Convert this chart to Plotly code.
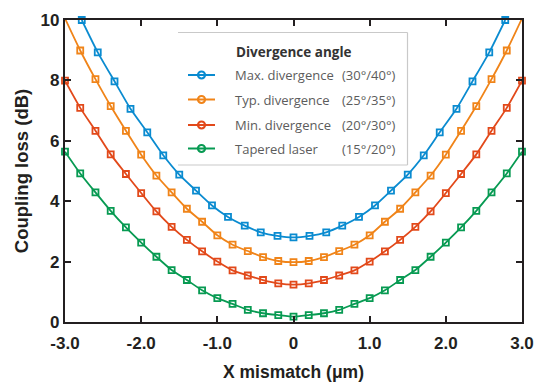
import plotly.graph_objects as go

# ---------------- data ----------------
x_common = [-3.0, -2.8, -2.6, -2.4, -2.2, -2.0, -1.8, -1.6, -1.4, -1.2, -1.0, -0.8, -0.6, -0.4, -0.2,
            0.0, 0.2, 0.4, 0.6, 0.8, 1.0, 1.2, 1.4, 1.6, 1.8, 2.0, 2.2, 2.4, 2.6, 2.8, 3.0]
x_max = [-2.78, -2.57, -2.35, -2.14, -1.92, -1.71, -1.50, -1.28, -1.07, -0.86, -0.64, -0.43, -0.21,
         0.0, 0.21, 0.43, 0.64, 0.86, 1.07, 1.28, 1.50, 1.71, 1.92, 2.14, 2.35, 2.57, 2.78]
y_max = [10.0, 8.93, 7.97, 7.06, 6.28, 5.52, 4.88, 4.35, 3.86, 3.48, 3.19, 2.97, 2.85,
         2.80, 2.85, 2.97, 3.19, 3.48, 3.86, 4.35, 4.88, 5.52, 6.28, 7.06, 7.97, 8.93, 10.0]
y_typ = [10.05, 8.99, 8.04, 7.15, 6.33, 5.54, 4.85, 4.29, 3.75, 3.32, 2.87, 2.56, 2.35, 2.15, 2.02,
         1.98, 2.02, 2.15, 2.35, 2.56, 2.87, 3.32, 3.75, 4.29, 4.85, 5.54, 6.33, 7.15, 8.04, 8.99, 10.05]
y_min = [7.99, 7.09, 6.33, 5.55, 4.90, 4.27, 3.66, 3.15, 2.72, 2.34, 2.00, 1.71, 1.54, 1.39, 1.28,
         1.24, 1.28, 1.39, 1.54, 1.71, 2.00, 2.34, 2.72, 3.15, 3.66, 4.27, 4.90, 5.55, 6.33, 7.09, 7.99]
y_tap = [5.64, 4.92, 4.29, 3.68, 3.13, 2.63, 2.16, 1.72, 1.39, 1.05, 0.79, 0.60, 0.40, 0.29, 0.23,
         0.18, 0.23, 0.29, 0.40, 0.60, 0.79, 1.05, 1.39, 1.72, 2.16, 2.63, 3.13, 3.68, 4.29, 4.92, 5.64]

series_names = ["Max. divergence", "Typ. divergence", "Min. divergence", "Tapered laser"]
series_angles = ["(30°/40°)", "(25°/35°)", "(20°/30°)", "(15°/20°)"]
legend_title = "Divergence angle"
x_tickvals = [-3, -2, -1, 0, 1, 2, 3]
x_ticktext = ["-3.0", "-2.0", "-1.0", "0", "1.0", "2.0", "3.0"]
y_tickvals = [0, 2, 4, 6, 8, 10]

colors = ["#0a8bd0", "#f08419", "#e2491a", "#079a52"]
series = [(x_max, y_max), (x_common, y_typ), (x_common, y_min), (x_common, y_tap)]

fig = go.Figure()
for (xs, ys), c, n in zip(series, colors, series_names):
    fig.add_trace(go.Scatter(
        x=xs, y=ys, mode="lines+markers", name=n, showlegend=False,
        line=dict(color=c, width=1.8, shape="spline", smoothing=0.6),
        marker=dict(symbol="square-open", size=6, color=c, line=dict(width=1.8, color=c)),
        cliponaxis=False,
    ))

# ---------------- manual legend (pixel-mapped overlay axes) ----------------
row_y = [75, 99.5, 125, 148.5]
for c, yy in zip(colors, row_y):
    fig.add_trace(go.Scatter(
        x=[188, 201.5, 215], y=[yy, yy, yy], xaxis="x2", yaxis="y2",
        mode="lines", showlegend=False, hoverinfo="skip",
        line=dict(color=c, width=2)))
    fig.add_trace(go.Scatter(
        x=[201.5], y=[yy], xaxis="x2", yaxis="y2", mode="markers",
        showlegend=False, hoverinfo="skip",
        marker=dict(symbol="circle-open", size=7, color=c, line=dict(width=2.2, color=c))))

annotations = [dict(x=234, y=52, xref="x2", yref="y2", text="<b>" + legend_title + "</b>",
                    showarrow=False, xanchor="left", yanchor="middle",
                    font=dict(family="Open Sans", size=13.5, color="#333333"))]
for n, a, yy in zip(series_names, series_angles, row_y):
    annotations.append(dict(x=233, y=yy, xref="x2", yref="y2", text=n, showarrow=False,
                            xanchor="left", yanchor="middle",
                            font=dict(family="Open Sans", size=13, color="#5c5c5c")))
    annotations.append(dict(x=397, y=yy, xref="x2", yref="y2", text=a, showarrow=False,
                            xanchor="right", yanchor="middle",
                            font=dict(family="Open Sans", size=13, color="#5c5c5c")))

border = "#c9c9c9"
shapes = [
    dict(type="line", xref="x2", yref="y2", x0=178, x1=407.5, y0=32.5, y1=32.5, line=dict(color=border, width=1.2)),
    dict(type="line", xref="x2", yref="y2", x0=178, x1=407.5, y0=165, y1=165, line=dict(color=border, width=1.2)),
    dict(type="line", xref="x2", yref="y2", x0=407.5, x1=407.5, y0=32.5, y1=165, line=dict(color=border, width=1.2)),
]

tick_font = dict(family="Liberation Sans", size=17, color="#231f20", weight="bold")
xtitle_font = dict(family="Liberation Sans", size=17.5, color="#231f20", weight="bold")
ytitle_font = dict(family="Liberation Sans", size=18.5, color="#231f20", weight="bold")
fig.update_layout(
    width=538, height=382,
    margin=dict(l=65, r=16, t=20, b=60),
    paper_bgcolor="white", plot_bgcolor="white",
    annotations=annotations, shapes=shapes,
    xaxis=dict(range=[-3, 3], tickvals=x_tickvals, ticktext=x_ticktext, automargin=False,
               ticks="inside", ticklen=6, tickwidth=1.5, tickcolor="#231f20",
               showline=True, linewidth=2.2, linecolor="#231f20", mirror="allticks",
               showgrid=False, zeroline=False, tickfont=tick_font, ticklabelstandoff=4,
               title=dict(text="X mismatch (μm)", font=xtitle_font, standoff=14)),
    yaxis=dict(range=[0, 10], tickvals=y_tickvals, automargin=False,
               ticks="inside", ticklen=6, tickwidth=1.5, tickcolor="#231f20",
               showline=True, linewidth=2.2, linecolor="#231f20", mirror="allticks",
               showgrid=False, zeroline=False, tickfont=tick_font,
               title=dict(text="Coupling loss (dB)", font=ytitle_font, standoff=7)),
    xaxis2=dict(overlaying="x", range=[65, 522], visible=False, fixedrange=True),
    yaxis2=dict(overlaying="y", range=[322, 20], visible=False, fixedrange=True),
)

fig.write_html("out.html")
